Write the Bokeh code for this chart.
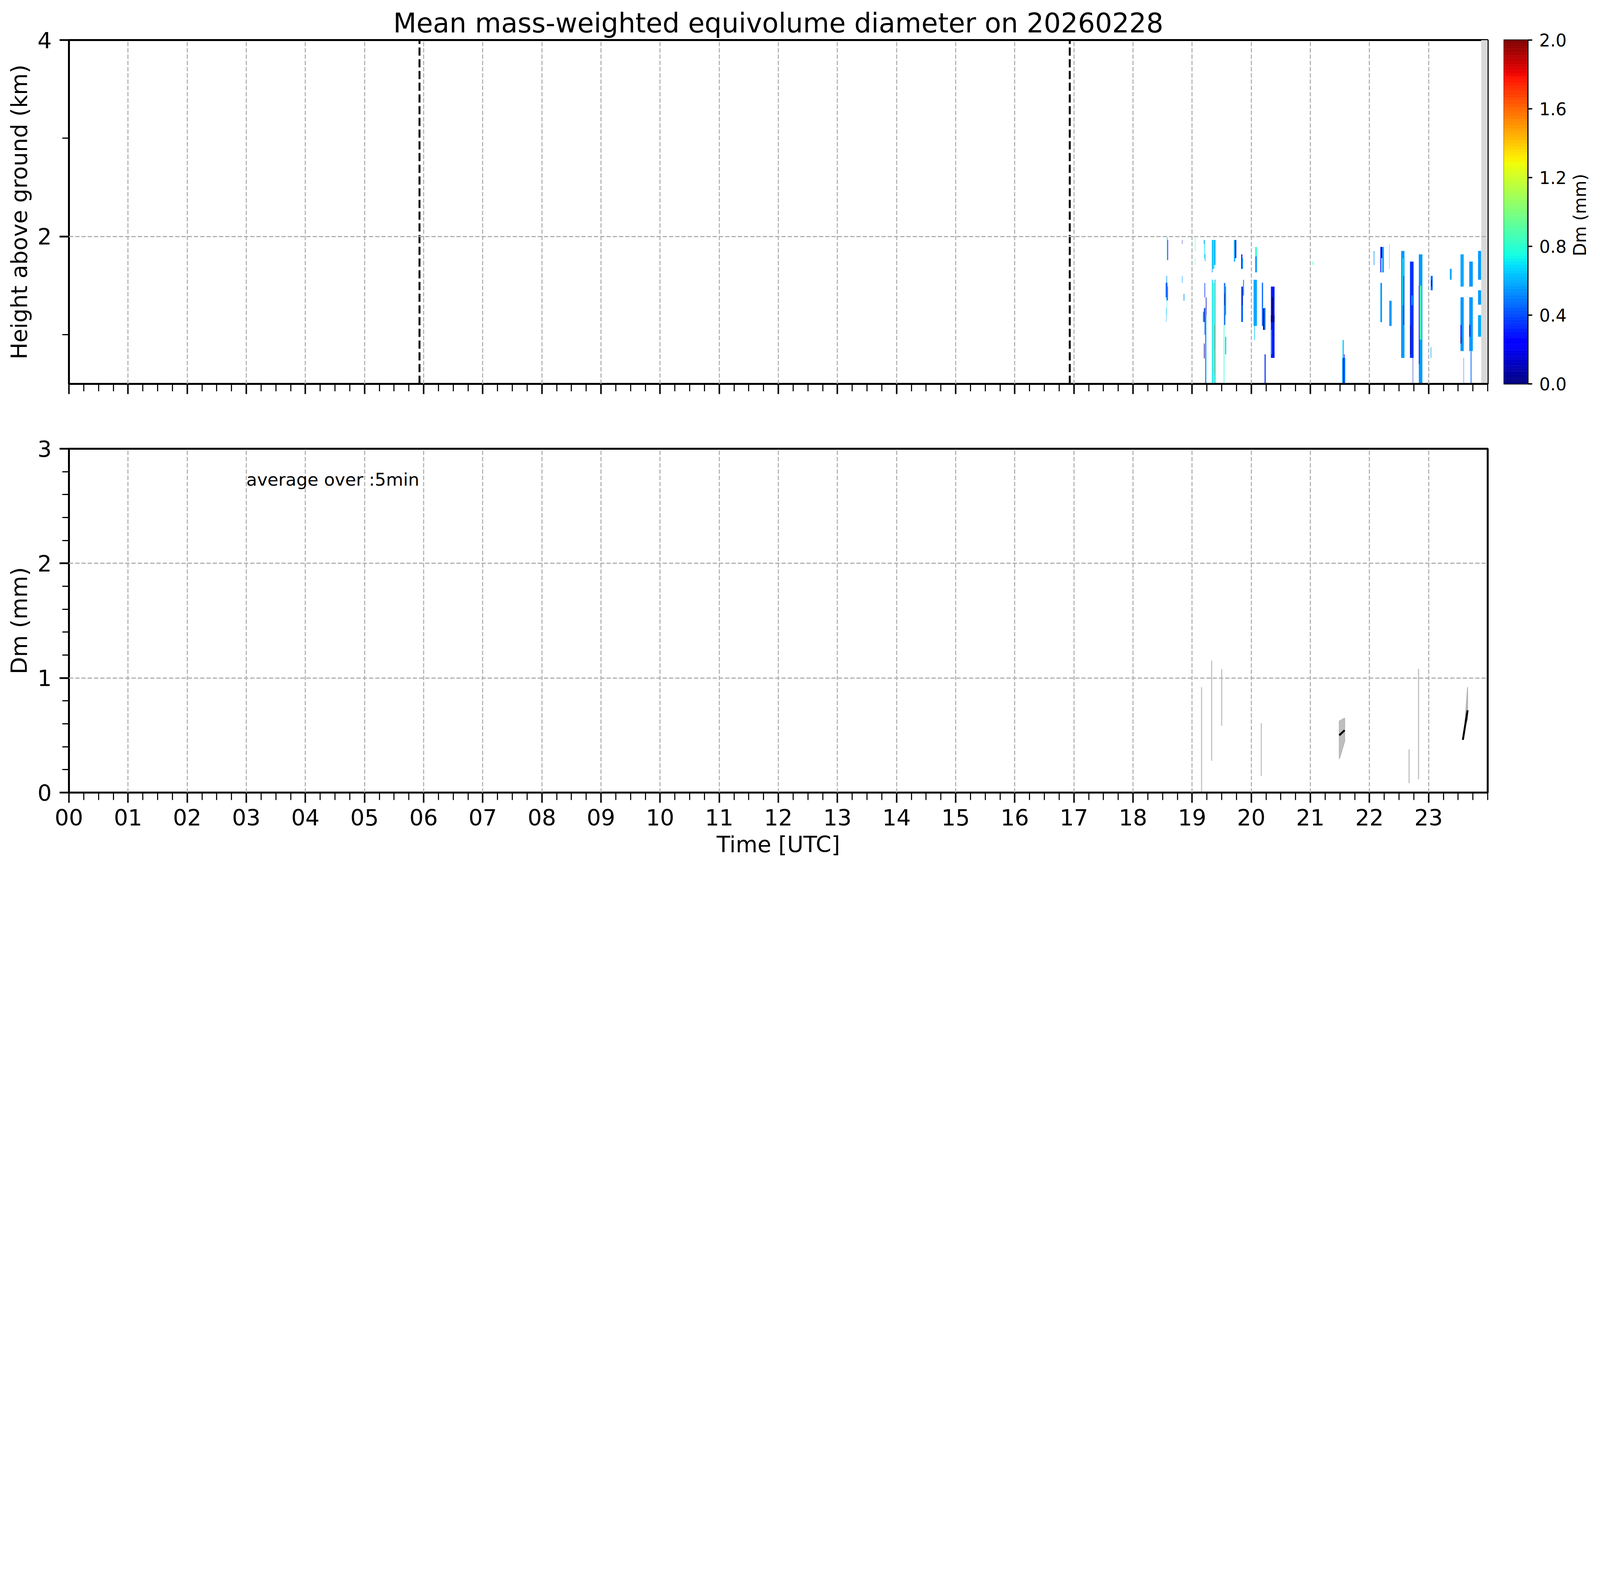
import numpy as np
from bokeh.plotting import figure
from bokeh.models import Range1d, FixedTicker, LinearColorMapper, Label, ColumnDataSource, NumeralTickFormatter
from bokeh.layouts import row, column
from bokeh.embed import file_html
from bokeh.resources import INLINE
from bokeh.core.properties import value

FONT = "DejaVu Sans"
S = 4096 / 7442  # CSS px per reference pixel


def px(v):
    return v * S


def fpx(v):
    return f"{v * S:.1f}px"


title_text = "Mean mass-weighted equivolume diameter on 20260228"
cbar_label = "Dm (mm)"
hour_ticks = list(range(24))
hour_labels = [f"{h:02d}" for h in hour_ticks]
quarter_ticks = [i / 4 for i in range(97)]

# sunrise / sunset marks (h)
sun_t = [5.93, 16.93]
# no-data shading (h)
nodata_t0 = [23.89]
nodata_t1 = [24.0]

# Dm streaks of the time-height section: time start/end (h), height bottom/top (km), Dm (mm)
seg_t0 = [18.575, 18.585, 18.565, 18.555, 18.565, 18.585, 18.570, 18.560, 18.830, 18.830,
          18.855, 18.870, 19.050, 19.050, 19.200, 19.205, 19.215, 19.335, 19.345, 19.375,
          19.335, 19.350, 19.375, 19.378, 19.380, 19.183, 19.200, 19.210, 19.220, 19.225,
          19.200, 19.210, 19.232, 19.535, 19.545, 19.560, 19.560, 19.545, 19.707, 19.727,
          19.830, 19.850, 19.830, 19.845, 19.862, 20.067, 20.067, 20.040, 20.050, 20.180,
          20.200, 20.225, 20.226, 20.333, 20.333, 20.345, 20.333, 21.040, 21.538, 21.555,
          21.545, 21.570, 22.072, 22.185, 22.200, 22.215, 22.185, 22.335, 22.335, 22.536,
          22.560, 22.575, 22.685, 22.690, 22.710, 22.732, 22.835, 22.846, 22.835, 23.036,
          23.045, 23.036, 23.360, 23.540, 23.540, 23.540, 23.540, 23.592, 23.688, 23.688,
          23.690, 23.712, 23.837, 23.837, 23.837]
seg_t1 = [18.585, 18.593, 18.575, 18.565, 18.585, 18.590, 18.575, 18.565, 18.835, 18.837,
          18.860, 18.875, 19.055, 19.055, 19.205, 19.215, 19.225, 19.345, 19.375, 19.395,
          19.350, 19.375, 19.380, 19.382, 19.395, 19.200, 19.210, 19.225, 19.240, 19.232,
          19.210, 19.220, 19.242, 19.545, 19.560, 19.575, 19.575, 19.555, 19.727, 19.747,
          19.850, 19.862, 19.860, 19.855, 19.877, 20.096, 20.096, 20.096, 20.060, 20.200,
          20.225, 20.244, 20.244, 20.394, 20.394, 20.370, 20.350, 21.050, 21.591, 21.575,
          21.565, 21.580, 22.082, 22.200, 22.215, 22.243, 22.212, 22.375, 22.340, 22.592,
          22.575, 22.585, 22.746, 22.700, 22.730, 22.738, 22.895, 22.882, 22.845, 23.069,
          23.055, 23.045, 23.390, 23.594, 23.594, 23.555, 23.555, 23.597, 23.748, 23.748,
          23.705, 23.725, 23.888, 23.888, 23.888]
seg_h0 = [1.760, 1.760, 1.530, 1.380, 1.350, 1.350, 1.200, 1.130, 1.924, 1.527,
          1.346, 1.346, 1.850, 1.710, 1.924, 1.780, 1.750, 1.635, 1.670, 1.710,
          0.500, 0.500, 0.600, 0.850, 0.500, 1.130, 1.130, 1.000, 0.500, 0.500,
          0.760, 1.380, 1.200, 0.500, 1.100, 1.200, 0.800, 1.300, 1.745, 1.780,
          1.671, 1.670, 1.130, 1.300, 1.400, 1.635, 1.800, 1.090, 0.946, 1.090,
          1.050, 1.050, 0.500, 0.764, 1.128, 1.200, 0.800, 1.711, 0.500, 0.500,
          0.764, 0.764, 1.710, 1.635, 1.780, 1.635, 1.128, 1.090, 1.670, 0.764,
          1.300, 1.100, 0.764, 0.800, 1.300, 0.500, 0.500, 0.950, 0.700, 1.453,
          1.490, 0.764, 1.561, 1.490, 0.834, 0.911, 0.980, 0.500, 1.490, 0.834,
          0.980, 0.500, 1.560, 1.306, 0.980]
seg_h1 = [1.995, 1.965, 1.600, 1.530, 1.530, 1.490, 1.350, 1.270, 1.965, 1.600,
          1.417, 1.417, 1.990, 1.780, 1.965, 1.965, 1.820, 1.965, 1.965, 1.965,
          1.561, 1.527, 1.100, 1.100, 1.561, 1.235, 1.270, 1.275, 1.200, 1.000,
          0.911, 1.527, 1.380, 1.527, 1.527, 1.490, 0.980, 1.420, 1.965, 1.965,
          1.818, 1.780, 1.490, 1.490, 1.560, 1.800, 1.894, 1.560, 1.090, 1.530,
          1.270, 1.275, 0.800, 1.490, 1.199, 1.380, 1.050, 1.745, 0.764, 0.764,
          0.946, 0.800, 1.853, 1.894, 1.894, 1.894, 1.527, 1.346, 1.920, 1.853,
          1.780, 1.600, 1.745, 1.100, 1.400, 0.764, 1.818, 1.500, 1.500, 1.600,
          1.560, 0.875, 1.671, 1.818, 1.382, 0.980, 1.100, 0.764, 1.745, 1.382,
          1.100, 0.834, 1.853, 1.453, 1.200]
seg_dm = [0.65, 0.30, 0.55, 0.25, 0.55, 0.10, 0.70, 0.60, 0.05, 0.55,
          0.30, 0.60, 0.75, 0.75, 0.10, 0.70, 0.60, 0.55, 0.70, 0.58,
          0.70, 0.90, 1.50, 1.80, 0.65, 0.58, 0.10, 0.45, 0.55, 0.60,
          0.05, 0.35, 0.10, 0.80, 0.35, 0.58, 0.58, 0.10, 0.58, 0.30,
          0.30, 0.60, 0.45, 0.10, 0.55, 0.55, 0.80, 0.58, 0.65, 0.45,
          0.10, 0.60, 0.35, 0.30, 0.05, 0.05, 0.55, 0.80, 0.55, 0.30,
          0.65, 0.20, 0.55, 0.25, 0.10, 0.55, 0.55, 0.55, 0.60, 0.55,
          0.75, 0.15, 0.35, 0.05, 0.60, 0.10, 0.55, 0.85, 0.20, 0.45,
          0.10, 0.55, 0.58, 0.58, 0.55, 0.05, 0.25, 0.35, 0.55, 0.55,
          0.25, 0.45, 0.55, 0.55, 0.58]

# lower panel: single-sample spread of 5-min mean Dm
std_t = [19.16, 19.33, 19.50, 20.17, 22.67, 22.83]
std_lo = [0.0, 0.278, 0.584, 0.144, 0.082, 0.116]
std_hi = [0.92, 1.152, 1.077, 0.606, 0.377, 1.079]
# spread bands and mean lines
band1_t = [21.49, 21.58]
band1_lo = [0.293, 0.448]
band1_hi = [0.623, 0.650]
line1_t = [21.49, 21.58]
line1_dm = [0.50, 0.544]
band2_t = [23.614, 23.66]
band2_lo = [0.57, 0.64]
band2_hi = [0.60, 0.92]
line2_t = [23.58, 23.62, 23.66]
line2_dm = [0.46, 0.59, 0.718]

cbar_ticks = [0.0, 0.4, 0.8, 1.2, 1.6, 2.0]


def jet_palette(n=256):
    x = np.linspace(0, 1, n)
    r = np.interp(x, [0, 0.35, 0.66, 0.89, 1], [0, 0, 1, 1, 0.5])
    g = np.interp(x, [0, 0.125, 0.375, 0.64, 0.91, 1], [0, 0, 1, 1, 0, 0])
    b = np.interp(x, [0, 0.11, 0.34, 0.65, 1], [0.5, 1, 1, 0, 0])
    return ["#%02x%02x%02x" % (int(round(rr * 255)), int(round(gg * 255)), int(round(bb * 255)))
            for rr, gg, bb in zip(r, g, b)]


palette = jet_palette()
mapper = LinearColorMapper(palette=palette, low=0.0, high=2.0)

GRID_COLOR = "#b0b0b0"
TICK_PX = fpx(104)

# layout (CSS px)
LEFT = 176
FRAME_W = 3632
RIGHT = 41
TOP = 102
FRAME_H = 880
GAP_A = 83
GAP_B = 83
BOTTOM = 175
CB_W = 62
CB_RIGHT = 103
LAB_W = 60
ROW_H = TOP + FRAME_H + GAP_A


def style_axes(p, xlabels):
    p.outline_line_color = "black"
    p.outline_line_width = px(9)
    p.background_fill_color = "white"
    p.border_fill_color = "white"
    for ax in p.xaxis:
        ax.ticker = FixedTicker(ticks=hour_ticks, minor_ticks=quarter_ticks)
        ax.major_label_overrides = {h: (lab if xlabels else "") for h, lab in zip(hour_ticks, hour_labels)}
        ax.major_tick_in = 0
        ax.major_tick_out = round(px(47))
        ax.minor_tick_in = 0
        ax.minor_tick_out = round(px(35))
        ax.major_tick_line_width = px(7)
        ax.minor_tick_line_width = px(5)
        ax.axis_line_width = px(9)
        ax.major_label_text_font = FONT
        ax.major_label_text_font_size = TICK_PX
        ax.major_label_text_color = "black"
        ax.major_label_standoff = 16
        ax.axis_label_text_font = FONT
        ax.axis_label_text_font_size = TICK_PX
        ax.axis_label_text_font_style = "normal"
        ax.axis_label_text_color = "black"
        ax.axis_label_standoff = round(px(21))
    for ax in p.yaxis:
        ax.major_tick_in = 0
        ax.major_tick_out = round(px(44))
        ax.minor_tick_in = 0
        ax.minor_tick_out = round(px(30))
        ax.major_tick_line_width = px(8)
        ax.minor_tick_line_width = px(5)
        ax.axis_line_width = px(9)
        ax.major_label_text_font = FONT
        ax.major_label_text_font_size = TICK_PX
        ax.major_label_text_color = "black"
        ax.major_label_standoff = round(px(36))
        ax.axis_label_text_font = FONT
        ax.axis_label_text_font_size = TICK_PX
        ax.axis_label_text_font_style = "normal"
        ax.axis_label_text_color = "black"
        ax.axis_label_standoff = round(px(20))
    for g in p.grid:
        g.grid_line_color = GRID_COLOR
        g.grid_line_width = px(5)
        g.grid_line_dash = "11 5"
        g.level = "annotation"
    p.xgrid.ticker = FixedTicker(ticks=hour_ticks)


# ---------------- top panel ----------------
p1 = figure(width=LEFT + FRAME_W + RIGHT, height=ROW_H,
            x_range=Range1d(0, 24), y_range=Range1d(0.5, 4),
            output_backend="svg", toolbar_location=None,
            min_border_left=LEFT, min_border_right=RIGHT, min_border_top=TOP, min_border_bottom=GAP_A,
            title=title_text)
p1.title.text_font = FONT
p1.title.text_font_size = fpx(125)
p1.title.text_font_style = "normal"
p1.title.text_color = "black"
p1.title.align = "center"
p1.title.standoff = round(px(12))
p1.yaxis.axis_label = "Height above ground (km)"
p1.yaxis.ticker = FixedTicker(ticks=[2, 4], minor_ticks=[1, 3])
style_axes(p1, xlabels=False)
p1.ygrid.ticker = FixedTicker(ticks=[2, 4])

p1.quad(left=nodata_t0, right=nodata_t1, bottom=0.5, top=4, fill_color="#d9d9d9", line_color=None)
src = ColumnDataSource(dict(t0=seg_t0, t1=seg_t1, h0=seg_h0, h1=seg_h1, dm=seg_dm))
p1.quad(left="t0", right="t1", bottom="h0", top="h1", source=src,
        fill_color={"field": "dm", "transform": mapper}, line_color=None)
p1.segment(x0=sun_t, y0=[0.5] * len(sun_t), x1=sun_t, y1=[4] * len(sun_t),
           line_color="black", line_width=px(9), line_dash="21 9")

# ---------------- colour bar ----------------
pc = figure(width=CB_W + CB_RIGHT, height=ROW_H, x_range=Range1d(0, 1), y_range=Range1d(0, 2),
            output_backend="svg", toolbar_location=None, x_axis_location=None, y_axis_location="right",
            min_border_left=0, min_border_right=CB_RIGHT, min_border_top=TOP, min_border_bottom=GAP_A)
pc.grid.visible = False
pc.outline_line_color = "black"
pc.outline_line_width = px(5)
cb_edges = np.linspace(0, 2, len(palette) + 1)
pc.quad(left=0, right=1, bottom=cb_edges[:-1], top=cb_edges[1:], fill_color=palette, line_color=palette,
        line_width=0.5)
cax = pc.yaxis[0]
cax.ticker = FixedTicker(ticks=cbar_ticks, minor_ticks=[])
cax.formatter = NumeralTickFormatter(format="0.0")
cax.major_tick_in = 0
cax.major_tick_out = round(px(20))
cax.major_tick_line_width = px(6)
cax.axis_line_width = px(5)
cax.major_label_text_font = FONT
cax.major_label_text_font_size = fpx(80)
cax.major_label_text_color = "black"
cax.major_label_standoff = round(px(32))

# colour-bar label (rotated, reading upwards)
pl = figure(width=LAB_W, height=ROW_H, x_range=Range1d(0, LAB_W), y_range=Range1d(0, ROW_H),
            output_backend="svg", toolbar_location=None, x_axis_location=None, y_axis_location=None,
            min_border_left=0, min_border_right=0, min_border_top=0, min_border_bottom=0)
pl.grid.visible = False
pl.outline_line_color = None
pl.text(x=[LAB_W / 2], y=[GAP_A + FRAME_H / 2], text=[cbar_label], angle=np.pi / 2,
        text_align="center", text_baseline="middle", text_font=value(FONT),
        text_font_size=value(fpx(80)), text_color="black")

# ---------------- bottom panel ----------------
p2 = figure(width=LEFT + FRAME_W + RIGHT, height=GAP_B + FRAME_H + BOTTOM,
            x_range=Range1d(0, 24), y_range=Range1d(0, 3),
            output_backend="svg", toolbar_location=None,
            min_border_left=LEFT, min_border_right=RIGHT, min_border_top=GAP_B, min_border_bottom=BOTTOM)
p2.xaxis.axis_label = "Time [UTC]"
p2.yaxis.axis_label = "Dm (mm)"
p2.yaxis.ticker = FixedTicker(ticks=[0, 1, 2, 3],
                              minor_ticks=[0.2, 0.4, 0.6, 0.8, 1.2, 1.4, 1.6, 1.8, 2.2, 2.4, 2.6, 2.8])
style_axes(p2, xlabels=True)
p2.ygrid.ticker = FixedTicker(ticks=[0, 1, 2, 3])

p2.segment(x0=std_t, y0=std_lo, x1=std_t, y1=std_hi, line_color="#bfbfbf", line_width=px(5))
for bt, blo, bhi in [(band1_t, band1_lo, band1_hi), (band2_t, band2_lo, band2_hi)]:
    p2.patch(x=list(bt) + list(bt[::-1]), y=list(bhi) + list(blo[::-1]),
             fill_color="#bfbfbf", line_color="#b3b3b3", line_width=px(4))
p2.line(line1_t, line1_dm, line_color="black", line_width=px(9))
p2.line(line2_t, line2_dm, line_color="black", line_width=px(9))
p2.add_layout(Label(x=3.0, y=2.73, text="average over :5min", text_font=FONT, text_font_size=fpx(82),
                    text_baseline="alphabetic", text_align="left", text_color="black"))

layout = column(row(p1, pc, pl), p2)
open("out.html", "w").write(file_html(layout, INLINE))
